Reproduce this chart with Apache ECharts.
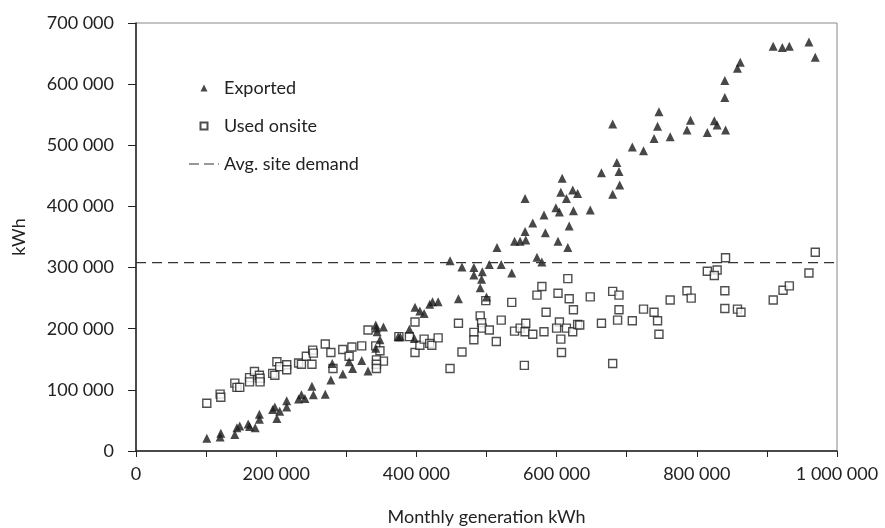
<!DOCTYPE html>
<html>
<head>
<meta charset="utf-8">
<script src="https://cdn.jsdelivr.net/npm/echarts@6/dist/echarts.min.js"></script>
<style>
  html, body { margin: 0; padding: 0; background: #fff; }
  #chart { width: 885px; height: 528px; }
</style>
</head>
<body>
<div id="chart"></div>
<script>
// [monthly generation kWh, kWh]
const exported = [
  [101000, 21000], [120000, 23000], [121000, 29000], [141000, 27000], [144000, 38000],
  [148000, 41000], [160000, 44000], [162000, 40000], [170000, 38000], [176000, 60000],
  [176000, 52000], [195000, 68000], [198000, 72000], [201000, 53000], [205000, 65000],
  [215000, 72000], [215000, 82000], [232000, 85000], [236000, 92000], [241000, 86000],
  [251000, 106000], [253000, 92000], [270000, 93000], [278000, 116000], [280000, 143000],
  [295000, 126000], [304000, 146000], [309000, 135000], [322000, 148000], [331000, 131000],
  [342000, 168000], [342000, 206000], [343000, 201000], [344000, 195000], [353000, 203000],
  [348000, 182000], [374000, 187000], [377000, 187000], [390000, 199000], [397000, 184000],
  [398000, 235000], [405000, 229000], [411000, 225000], [419000, 240000], [423000, 244000],
  [431000, 244000], [448000, 311000], [460000, 249000], [465000, 301000], [482000, 300000],
  [482000, 288000], [494000, 293000], [493000, 281000], [491000, 267000], [500000, 252000],
  [504000, 305000], [515000, 333000], [521000, 305000], [536000, 291000], [540000, 343000],
  [548000, 343000], [556000, 345000], [555000, 359000], [555000, 413000], [566000, 373000],
  [572000, 317000], [579000, 309000], [582000, 386000], [584000, 357000], [599000, 398000],
  [602000, 343000], [604000, 391000], [606000, 423000], [608000, 446000], [614000, 413000],
  [616000, 333000], [618000, 368000], [623000, 427000], [624000, 393000], [630000, 421000],
  [648000, 394000], [664000, 455000], [680000, 420000], [680000, 535000], [686000, 472000],
  [689000, 457000], [690000, 435000], [708000, 497000], [724000, 491000], [739000, 511000],
  [744000, 531000], [746000, 555000], [762000, 514000], [786000, 525000], [791000, 541000],
  [815000, 521000], [825000, 540000], [829000, 533000], [840000, 578000], [840000, 606000],
  [841000, 525000], [858000, 626000], [862000, 636000], [909000, 662000], [922000, 660000],
  [932000, 662000], [960000, 669000], [969000, 644000]
];

const usedOnsite = [
  [101000, 78000], [120000, 93000], [121000, 88000], [141000, 111000], [144000, 104000],
  [148000, 104000], [162000, 120000], [162000, 113000], [169000, 130000], [176000, 124000],
  [177000, 119000], [177000, 113000], [195000, 127000], [198000, 124000], [201000, 146000],
  [205000, 138000], [215000, 141000], [215000, 133000], [232000, 144000], [236000, 142000],
  [243000, 155000], [251000, 142000], [252000, 165000], [253000, 160000], [270000, 175000],
  [278000, 161000], [281000, 135000], [295000, 166000], [304000, 155000], [308000, 170000],
  [322000, 172000], [331000, 198000], [342000, 172000], [348000, 164000], [353000, 147000],
  [343000, 149000], [343000, 142000], [343000, 135000], [375000, 187000], [390000, 187000],
  [398000, 211000], [398000, 161000], [405000, 173000], [411000, 183000], [419000, 176000],
  [422000, 173000], [431000, 185000], [448000, 135000], [460000, 209000], [465000, 162000],
  [499000, 246000], [491000, 221000], [493000, 210000], [494000, 201000], [482000, 194000],
  [482000, 182000], [504000, 198000], [514000, 179000], [521000, 214000], [536000, 243000],
  [540000, 196000], [548000, 201000], [556000, 209000], [555000, 195000], [566000, 191000],
  [554000, 140000], [572000, 255000], [579000, 269000], [585000, 227000], [582000, 195000],
  [602000, 258000], [604000, 211000], [600000, 201000], [618000, 249000], [616000, 282000],
  [624000, 231000], [614000, 201000], [623000, 195000], [630000, 207000], [606000, 183000],
  [607000, 161000], [648000, 252000], [664000, 209000], [633000, 206000], [680000, 261000],
  [689000, 255000], [689000, 231000], [687000, 214000], [680000, 143000], [708000, 213000],
  [724000, 232000], [739000, 227000], [744000, 213000], [746000, 191000], [762000, 247000],
  [786000, 262000], [792000, 250000], [815000, 294000], [829000, 296000], [825000, 287000],
  [841000, 316000], [840000, 262000], [840000, 233000], [858000, 232000], [863000, 227000],
  [909000, 247000], [923000, 263000], [932000, 270000], [960000, 291000], [969000, 325000]
];

const avgSiteDemand = 308000;
const xRange = [0, 1000000];
const yRange = [0, 700000];

const fmt = v => String(v).replace(/\B(?=(\d{3})+(?!\d))/g, ' ');
const font = 'Lato, "Open Sans", sans-serif';
const ink = '#222';

// small legend glyphs (paths keep their aspect inside the 30x7 legend box)
const triIcon = 'path://M0,10L5,0L10,10Z';
const boxIcon = 'path://M0,0H10V10H0Z';
const dashIcon = 'path://M0,0H10V1H0Z M15,0H25V1H15Z M29,0H30V1H29Z';

const chart = echarts.init(document.getElementById('chart'));
chart.setOption({
  animation: false,
  textStyle: { fontFamily: font },
  grid: {
    left: 136, right: 48, top: 23, bottom: 77,
    outerBoundsMode: 'none',
    show: true, borderColor: '#888', borderWidth: 1
  },
  legend: {
    data: [
      { name: 'Exported', icon: triIcon },
      { name: 'Used onsite', icon: boxIcon },
      { name: 'Avg. site demand', icon: dashIcon }
    ],
    orient: 'vertical',
    left: 184, top: 74,
    itemWidth: 30, itemHeight: 7, itemGap: 20,
    symbolKeepAspect: true,
    textStyle: { fontSize: 18, color: ink, fontFamily: font }
  },
  xAxis: {
    type: 'value',
    min: xRange[0], max: xRange[1], interval: 100000,
    name: 'Monthly generation kWh',
    nameLocation: 'middle', nameGap: 57,
    nameTextStyle: { fontSize: 18, color: ink },
    axisLine: { show: true, lineStyle: { color: ink, width: 1.5 } },
    axisTick: { show: true, length: 6, lineStyle: { color: ink } },
    axisLabel: {
      fontSize: 18, color: ink, margin: 14,
      formatter: v => (v % 200000 === 0 ? fmt(v) : '')
    },
    splitLine: { show: false }
  },
  yAxis: {
    type: 'value',
    min: yRange[0], max: yRange[1], interval: 100000,
    name: 'kWh',
    nameLocation: 'middle', nameGap: 108,
    nameTextStyle: { fontSize: 18, color: ink },
    axisLine: { show: true, lineStyle: { color: ink, width: 1.5 } },
    axisTick: { show: true, length: 8, lineStyle: { color: ink } },
    axisLabel: { fontSize: 18, color: ink, margin: 22, formatter: v => fmt(v) },
    splitLine: { show: false }
  },
  series: [
    {
      name: 'Used onsite',
      type: 'scatter',
      symbol: 'rect',
      symbolSize: 8,
      itemStyle: { color: '#fff', borderColor: ink, borderWidth: 1.4 },
      data: usedOnsite
    },
    {
      name: 'Exported',
      type: 'scatter',
      symbol: 'triangle',
      symbolSize: 9,
      itemStyle: { color: '#1a1a1a' },
      data: exported
    },
    {
      name: 'Avg. site demand',
      type: 'line',
      symbol: 'none',
      lineStyle: { type: [10, 6], color: '#333', width: 1.3 },
      itemStyle: { color: '#333' },
      data: [[xRange[0], avgSiteDemand], [xRange[1], avgSiteDemand]]
    }
  ]
});
</script>
</body>
</html>
